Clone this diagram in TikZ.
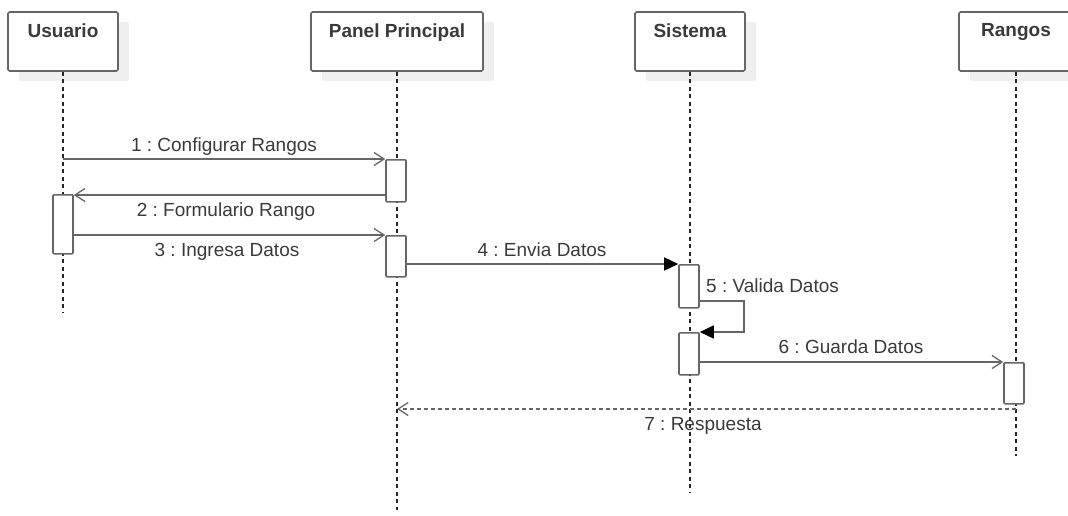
\documentclass[tikz,border=0pt]{standalone}
\usepackage{fontspec}
\setmainfont{Liberation Sans}
\usetikzlibrary{arrows.meta,shadows}
\definecolor{linegray}{HTML}{666666}
\definecolor{txtgray}{HTML}{3A3A3A}
\definecolor{shadowgray}{HTML}{EFEFEF}
\tikzset{
  head/.style={draw=linegray, line width=1.6pt, fill=white, rounded corners=1.5pt,
    inner sep=0pt, minimum height=59pt,
    drop shadow={shadow xshift=11pt, shadow yshift=-10pt, fill=shadowgray, opacity=1}},
  headtxt/.style={anchor=north, inner sep=0pt, yshift=-12pt, text=txtgray,
    font=\fontsize{19}{22}\selectfont\bfseries},
  lifeline/.style={draw=black!85, line width=1.1pt, dash pattern=on 4pt off 3.5pt},
  act/.style={draw=linegray, line width=1.6pt, fill=white, rounded corners=1pt,
    inner sep=0pt, minimum width=20pt, anchor=north},
  msg/.style={draw=linegray, line width=1.5pt},
  openarrow/.style={-{Straight Barb[length=10pt,width=13pt,line width=1.3pt]}},
  fullarrow/.style={-{Triangle[length=14pt,width=13pt]}, arrows={[color=black]}},
  reply/.style={draw=linegray, line width=1.3pt, dash pattern=on 4pt off 3pt},
  lbl/.style={anchor=base, inner sep=0pt, text=txtgray,
    font=\fontsize{19}{22}\selectfont\frenchspacing},
}
\begin{document}
\begin{tikzpicture}[x=1pt, y=-1pt]
\useasboundingbox (0,0) rectangle (1068,515);
\clip (0,0) rectangle (1068,515);

% participant heads
\node[head, minimum width=110pt] (uh) at (63,41.5) {};
\node[head, minimum width=172pt] (ph) at (397,41.5) {};
\node[head, minimum width=110pt] (sh) at (690,41.5) {};
\node[head, minimum width=114pt] (rh) at (1016,41.5) {};
\node[headtxt] (uht) at (uh.north) {Usuario};
\node[headtxt] (pht) at (ph.north) {Panel Principal};
\node[headtxt] (sht) at (sh.north) {Sistema};
\node[headtxt] (rht) at (rh.north) {Rangos};

% lifeline ends
\coordinate (ue) at (63,312);
\coordinate (pe) at (397,510);
\coordinate (se) at (690,492);
\coordinate (re) at (1016,456);
\draw[lifeline] (uh.south) -- (uh.south |- ue);
\draw[lifeline] (ph.south) -- (ph.south |- pe);
\draw[lifeline] (sh.south) -- (sh.south |- se);
\draw[lifeline] (rh.south) -- (rh.south |- re);

% activation bars
\node[act, minimum height=42pt] (pa1) at (396,159) {};
\node[act, minimum height=59pt] (ua1) at (63,194) {};
\node[act, minimum height=41pt] (pa2) at (396,235) {};
\node[act, minimum height=43pt] (sa1) at (689,264) {};
\node[act, minimum height=42pt] (sa2) at (689,332) {};
\node[act, minimum height=41pt] (ra1) at (1014,362) {};

% messages
\draw[msg, openarrow] (uh.south |- pa1.north west) -- (pa1.north west);
\node[lbl] (l1) at (224,151) {1 : Configurar Rangos};

\coordinate (m2) at (0,195);
\draw[msg, openarrow] (pa1.west |- m2) -- (ua1.east |- m2);
\node[lbl] (l2) at (226,216) {2 : Formulario Rango};

\draw[msg, openarrow] (ua1.east |- pa2.north) -- (pa2.north west);
\node[lbl] (l3) at (227,256) {3 : Ingresa Datos};

\draw[msg, fullarrow] (pa2.east |- sa1.north) -- (sa1.north west);
\node[lbl] (l4) at (542,256) {4 : Envia Datos};

\coordinate (loop) at (744,301);
\draw[msg, fullarrow] (sa1.east |- loop) -- (loop) |- (sa2.north east);
\node[lbl, anchor=base west] (l5) at (706,292) {5 : Valida Datos};

\draw[msg, openarrow] (sa2.east |- ra1.north) -- (ra1.north west);
\node[lbl] (l6) at (851,353) {6 : Guarda Datos};

\coordinate (m7) at (0,409);
\draw[reply, openarrow] (rh.south |- m7) -- (ph.south |- m7);
\node[lbl] (l7) at (703,430) {7 : Respuesta};
\end{tikzpicture}
\end{document}
